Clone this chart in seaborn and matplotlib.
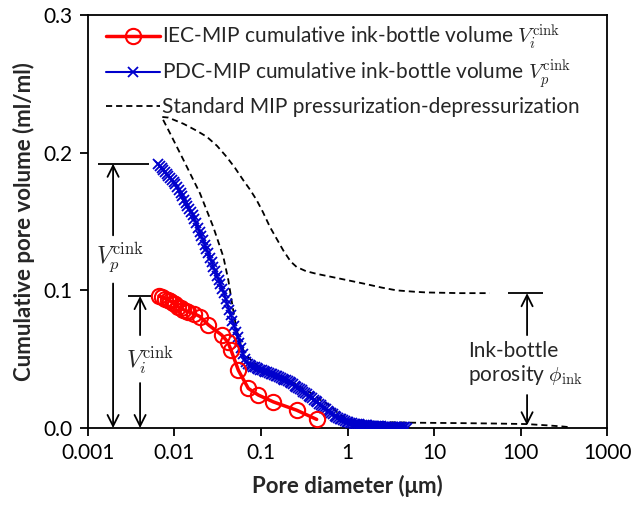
import numpy as np
import pandas as pd
import matplotlib
matplotlib.use("Agg")
import matplotlib.pyplot as plt
import seaborn as sns
from matplotlib.ticker import FixedLocator, FixedFormatter, NullLocator

# ---------------- data ----------------
red_d = [0.0066, 0.0072, 0.0078, 0.0084, 0.0089, 0.0095, 0.0101, 0.0111, 0.0120,
         0.0127, 0.0136, 0.0145, 0.0170, 0.0197, 0.0246, 0.0351, 0.0412, 0.045,
         0.0547, 0.0713, 0.093, 0.139, 0.258, 0.44]
red_v = [0.0959, 0.095, 0.094, 0.093, 0.0925, 0.091, 0.090, 0.088, 0.087,
         0.086, 0.085, 0.0845, 0.083, 0.081, 0.075, 0.0676, 0.0627, 0.0567,
         0.042, 0.0288, 0.024, 0.019, 0.013, 0.0063]

blue_d = [0.00646, 0.00676, 0.00708, 0.00741, 0.00776, 0.00813, 0.00851, 0.00891, 0.00933, 0.00977,
          0.0102, 0.0107, 0.0112, 0.0118, 0.0123, 0.0129, 0.0135, 0.0141, 0.0148, 0.0155,
          0.0162, 0.0170, 0.0178, 0.0186, 0.0195, 0.0204, 0.0214, 0.0224, 0.0234, 0.0246,
          0.0257, 0.0269, 0.0282, 0.0295, 0.0309, 0.0324, 0.0339, 0.0355, 0.0372, 0.0389,
          0.0407, 0.0427, 0.0447, 0.0468, 0.0490, 0.0513, 0.0537, 0.0562, 0.0589, 0.0617,
          0.0646, 0.0676, 0.0708, 0.0741, 0.0776, 0.0813, 0.0851, 0.0891, 0.0933, 0.0977,
          0.102, 0.107, 0.112, 0.118, 0.123, 0.129, 0.135, 0.141, 0.148, 0.155,
          0.162, 0.170, 0.178, 0.186, 0.195, 0.204, 0.214, 0.224, 0.234, 0.246,
          0.257, 0.269, 0.282, 0.295, 0.309, 0.324, 0.339, 0.355, 0.372, 0.389,
          0.407, 0.427, 0.447, 0.468, 0.490, 0.513, 0.537, 0.562, 0.589, 0.617,
          0.646, 0.676, 0.708, 0.741, 0.776, 0.813, 0.851, 0.891, 0.933, 0.977,
          1.02, 1.07, 1.12, 1.18, 1.23, 1.29, 1.35, 1.41, 1.48, 1.55,
          1.62, 1.70, 1.78, 1.86, 1.95, 2.04, 2.14, 2.24, 2.34, 2.46,
          2.57, 2.69, 2.82, 2.95, 3.09, 3.24, 3.39, 3.55, 3.72, 3.89,
          4.07, 4.27, 4.47, 4.68, 4.90]
blue_v = [0.192, 0.1905, 0.189, 0.1875, 0.186, 0.1845, 0.183, 0.1815, 0.180, 0.1785,
          0.177, 0.1748, 0.1726, 0.1704, 0.1682, 0.166, 0.1638, 0.1616, 0.1594, 0.1572,
          0.155, 0.1519, 0.1488, 0.1456, 0.1425, 0.1394, 0.1363, 0.1331, 0.130, 0.1268,
          0.1236, 0.1204, 0.1172, 0.114, 0.1108, 0.1076, 0.1044, 0.1012, 0.098, 0.094,
          0.090, 0.086, 0.082, 0.078, 0.074, 0.070, 0.066, 0.062, 0.058, 0.054,
          0.050, 0.0483, 0.0467, 0.0455, 0.045, 0.0445, 0.044, 0.0435, 0.043, 0.0425,
          0.042, 0.0415, 0.041, 0.0405, 0.040, 0.0395, 0.039, 0.0385, 0.038, 0.0375,
          0.037, 0.0364, 0.0358, 0.0352, 0.0346, 0.034, 0.0333, 0.0325, 0.0317, 0.0309,
          0.0301, 0.0292, 0.0283, 0.0274, 0.0265, 0.0256, 0.0246, 0.0236, 0.0226, 0.0216,
          0.0206, 0.0196, 0.0186, 0.0176, 0.0166, 0.0156, 0.0146, 0.0136, 0.0126, 0.0117,
          0.0108, 0.0099, 0.0091, 0.0083, 0.0076, 0.0069, 0.0063, 0.0057, 0.0052, 0.0047,
          0.0043, 0.0039, 0.0036, 0.0033, 0.0030, 0.0028, 0.0026, 0.0024, 0.0022, 0.0021,
          0.0020, 0.0019, 0.0018, 0.0017, 0.0016, 0.0015, 0.0014, 0.0013, 0.0013, 0.0012,
          0.0011, 0.0011, 0.0010, 0.0010, 0.0009, 0.0009, 0.0008, 0.0008, 0.0007, 0.0007,
          0.0006, 0.0006, 0.0005, 0.0005, 0.0004]

# standard MIP: pressurization (large -> small) then depressurization (small -> large)
std_d = [350, 300, 200, 118, 50, 20, 5.8, 3, 1.82, 1.3, 0.98, 0.8, 0.655, 0.5, 0.385,
         0.25, 0.158, 0.1, 0.085, 0.075, 0.065, 0.058, 0.0524, 0.047, 0.0419, 0.0367,
         0.0281, 0.0197, 0.0127, 0.0089, 0.0071,
         0.0085, 0.0127, 0.018, 0.0236, 0.031, 0.040, 0.050, 0.0624, 0.075, 0.089,
         0.105, 0.127, 0.15, 0.181, 0.22, 0.258, 0.33, 0.44, 0.63, 0.98, 1.52, 2.5,
         3.7, 6, 8.2, 20, 44]
std_v = [0.0008, 0.0012, 0.0020, 0.0029, 0.0033, 0.0036, 0.0039, 0.0042, 0.0046, 0.0055,
         0.007, 0.010, 0.0155, 0.020, 0.025, 0.032, 0.0385, 0.043, 0.047, 0.050, 0.054,
         0.062, 0.071, 0.088, 0.1075, 0.1244, 0.146, 0.1705, 0.1947, 0.214, 0.226,
         0.2255, 0.221, 0.216, 0.2116, 0.205, 0.197, 0.189, 0.180, 0.173, 0.1656,
         0.157, 0.146, 0.138, 0.129, 0.121, 0.117, 0.114, 0.112, 0.110, 0.1075, 0.105,
         0.102, 0.100, 0.099, 0.0985, 0.098, 0.098]

x_ticks = [0.001, 0.01, 0.1, 1, 10, 100, 1000]
x_ticklabels = ["0.001", "0.01", "0.1", "1", "10", "100", "1000"]
y_ticks = [0.0, 0.1, 0.2, 0.3]
y_ticklabels = ["0.0", "0.1", "0.2", "0.3"]

lab_red = r"IEC-MIP cumulative ink-bottle volume $V_i^{\mathrm{cink}}$"
lab_blue = r"PDC-MIP cumulative ink-bottle volume $V_p^{\mathrm{cink}}$"
lab_std = "Standard MIP pressurization-depressurization"

# ---------------- style ----------------
sns.set_theme(style="ticks")
plt.rcParams["font.family"] = ["Lato", "DejaVu Sans"]
plt.rcParams["mathtext.fontset"] = "cm"
plt.rcParams["axes.linewidth"] = 1.3

fig = plt.figure(figsize=(6.33, 5.09), dpi=100)
ax = fig.add_axes([0.139, 0.159, 0.82, 0.8115])
ax.set_xscale("log")

df_red = pd.DataFrame({"d": red_d, "v": red_v})
df_blue = pd.DataFrame({"d": blue_d, "v": blue_v})
df_std = pd.DataFrame({"d": std_d, "v": std_v})

sns.lineplot(data=df_std, x="d", y="v", ax=ax, sort=False, estimator=None,
             color="black", lw=1.3, linestyle=(0, (3.4, 2.2)), label=lab_std, zorder=2)
sns.lineplot(data=df_blue, x="d", y="v", ax=ax, sort=False, estimator=None,
             color="#0000CC", lw=1.5, marker="x", markersize=6.5, markeredgewidth=1.3,
             markeredgecolor="#0000CC", label=lab_blue, zorder=3)
sns.lineplot(data=df_red, x="d", y="v", ax=ax, sort=False, estimator=None,
             color="#FF0000", lw=2.5, marker="o", markersize=11, markerfacecolor="none",
             markeredgecolor="#FF0000", markeredgewidth=1.5, label=lab_red, zorder=4)

ax.set_xlim(0.001, 1000)
ax.set_ylim(0, 0.3)
ax.xaxis.set_major_locator(FixedLocator(x_ticks))
ax.xaxis.set_major_formatter(FixedFormatter(x_ticklabels))
ax.xaxis.set_minor_locator(NullLocator())
ax.yaxis.set_major_locator(FixedLocator(y_ticks))
ax.yaxis.set_major_formatter(FixedFormatter(y_ticklabels))
ax.tick_params(axis="both", direction="out", length=6, width=1.3, labelsize=15,
               colors="black", pad=5)
for s in ax.spines.values():
    s.set_color("black")
    s.set_visible(True)

ax.set_xlabel("Pore diameter (μm)", fontsize=16, fontweight="bold", labelpad=8)
ax.set_ylabel("Cumulative pore volume (ml/ml)", fontsize=16, fontweight="bold", labelpad=6)

# legend
h, l = ax.get_legend_handles_labels()
order = [l.index(lab_red), l.index(lab_blue), l.index(lab_std)]
ax.legend([h[i] for i in order], [l[i] for i in order], loc="upper left",
          bbox_to_anchor=(0.02, 1.0), frameon=False, fontsize=15, handlelength=2.6,
          handletextpad=0.1, labelspacing=0.3, borderaxespad=0.2, borderpad=0.15)

# annotations
arr = dict(arrowstyle="->,head_length=0.8,head_width=0.4", lw=1.3, color="black",
           shrinkA=0, shrinkB=0, mutation_scale=10)
vp = blue_v[0]
vi = red_v[0]
vink = std_v[-1]
# V_p
ax.hlines(vp, 0.00130, 0.00506, color="black", lw=1.3)
ax.annotate("", xy=(0.00195, vp), xytext=(0.00195, 0.140), arrowprops=arr)
ax.annotate("", xy=(0.00195, 0.0), xytext=(0.00195, 0.105), arrowprops=arr)
ax.text(0.00234, 0.1235, r"$V_p^{\mathrm{cink}}$", ha="center", va="center", fontsize=17)
# V_i
ax.hlines(vi, 0.0029, 0.00535, color="black", lw=1.3)
ax.annotate("", xy=(0.0040, vi), xytext=(0.0040, 0.0675), arrowprops=arr)
ax.annotate("", xy=(0.0040, 0.0), xytext=(0.0040, 0.0327), arrowprops=arr)
ax.text(0.0052, 0.049, r"$V_i^{\mathrm{cink}}$", ha="center", va="center", fontsize=17)
# ink-bottle porosity
ax.hlines(vink, 71.7, 182, color="black", lw=1.3)
ax.annotate("", xy=(119, vink), xytext=(119, 0.0675), arrowprops=arr)
ax.annotate("", xy=(119, 0.002), xytext=(119, 0.024), arrowprops=arr)
ax.text(25, 0.0465, "Ink-bottle\nporosity $\\phi_{\\mathrm{ink}}$", ha="left", va="center",
        fontsize=15, multialignment="left", linespacing=1.1)

fig.savefig("out.png", dpi=100)
